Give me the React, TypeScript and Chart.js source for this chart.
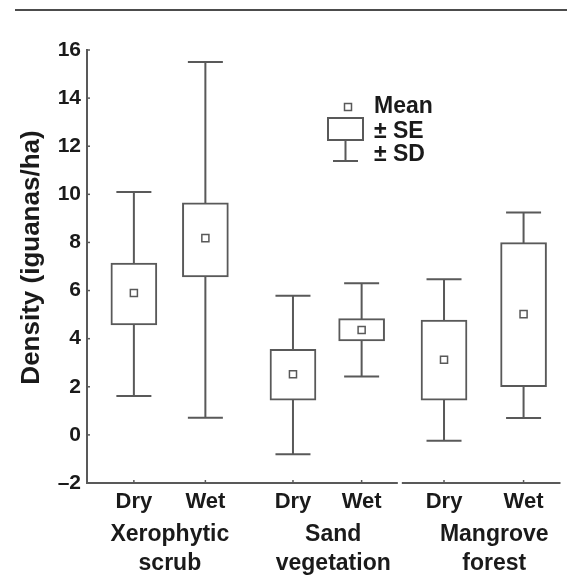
import React, { useEffect, useRef } from "react";
import { Chart, registerables } from "chart.js";

Chart.register(...registerables);

// ---- data ----
const groupLines = [
  ["Xerophytic", "scrub"],
  ["Sand", "vegetation"],
  ["Mangrove", "forest"],
];
const seasons = ["Dry", "Wet", "Dry", "Wet", "Dry", "Wet"];
const positions = [0.99, 2.5, 4.35, 5.8, 7.54, 9.22];
const groupCenters = [1.75, 5.2, 8.6];
const means = [5.9, 8.18, 2.52, 4.36, 3.12, 5.02];
const seLow = [4.57, 6.57, 1.44, 3.91, 1.44, 2.0];
const seHigh = [7.14, 9.65, 3.56, 4.83, 4.77, 7.99];
const sdLow = [1.62, 0.71, -0.8, 2.43, -0.24, 0.7];
const sdHigh = [10.1, 15.5, 5.78, 6.3, 6.47, 9.25];
const yMin = -2;
const yMax = 16;
const yStep = 2;
const yTitle = "Density (iguanas/ha)";
const legendItems = ["Mean", "\u00B1 SE", "\u00B1 SD"];

const LINE = "#595959";
const TEXT = "#1a1a1a";
const FONT = "'Liberation Sans', Arial, Helvetica, sans-serif";

const decorPlugin = {
  id: "decor",
  beforeDatasetsDraw(chart: any) {
    const ctx = chart.ctx;
    const xs = chart.scales.x;
    const ys = chart.scales.y;
    ctx.save();
    ctx.strokeStyle = LINE;
    ctx.lineWidth = 2;
    positions.forEach((p, i) => {
      const x = xs.getPixelForValue(p);
      const yt = ys.getPixelForValue(sdHigh[i]);
      const yb = ys.getPixelForValue(sdLow[i]);
      ctx.beginPath();
      ctx.moveTo(x, yt);
      ctx.lineTo(x, yb);
      ctx.moveTo(x - 17.5, yt);
      ctx.lineTo(x + 17.5, yt);
      ctx.moveTo(x - 17.5, yb);
      ctx.lineTo(x + 17.5, yb);
      ctx.stroke();
    });
    ctx.restore();
  },
  afterDraw(chart: any) {
    const ctx = chart.ctx;
    const xs = chart.scales.x;
    const ys = chart.scales.y;
    const area = chart.chartArea;
    ctx.save();

    // top rule
    ctx.strokeStyle = "#111";
    ctx.lineWidth = 1.5;
    ctx.beginPath();
    ctx.moveTo(15, 10);
    ctx.lineTo(567, 10);
    ctx.stroke();

    // x axis line with a break between sand and mangrove
    const gapX = (xs.getPixelForValue(positions[3]) + xs.getPixelForValue(positions[4])) / 2 - 3;
    ctx.strokeStyle = LINE;
    ctx.lineWidth = 2;
    ctx.beginPath();
    ctx.moveTo(area.left, area.bottom);
    ctx.lineTo(gapX - 2, area.bottom);
    ctx.moveTo(gapX + 2, area.bottom);
    ctx.lineTo(area.right, area.bottom);
    ctx.stroke();

    // x tick marks
    ctx.lineWidth = 1.5;
    positions.forEach((p) => {
      const x = xs.getPixelForValue(p);
      ctx.beginPath();
      ctx.moveTo(x, area.bottom);
      ctx.lineTo(x, area.bottom - 3);
      ctx.stroke();
    });
    // y tick marks (inward)
    for (let v = yMin; v <= yMax; v += yStep) {
      const y = ys.getPixelForValue(v);
      ctx.beginPath();
      ctx.moveTo(area.left, y);
      ctx.lineTo(area.left + 3, y);
      ctx.stroke();
    }

    // x labels
    ctx.fillStyle = TEXT;
    ctx.textAlign = "center";
    ctx.textBaseline = "middle";
    ctx.font = `bold 22px ${FONT}`;
    seasons.forEach((s, i) => {
      ctx.fillText(s, xs.getPixelForValue(positions[i]), area.bottom + 19);
    });
    ctx.font = `bold 23px ${FONT}`;
    groupLines.forEach((lines, i) => {
      const x = xs.getPixelForValue(groupCenters[i]);
      lines.forEach((t, j) => {
        ctx.fillText(t, x, area.bottom + 52 + j * 29);
      });
    });

    // y title
    ctx.save();
    ctx.translate(32, (area.top + area.bottom) / 2 - 9);
    ctx.rotate(-Math.PI / 2);
    ctx.font = `bold 26px ${FONT}`;
    ctx.fillText(yTitle, 0, 0);
    ctx.restore();

    // legend
    ctx.strokeStyle = LINE;
    ctx.lineWidth = 1.5;
    ctx.fillStyle = "#fff";
    ctx.beginPath();
    ctx.rect(344.5, 103.5, 7, 7);
    ctx.fill();
    ctx.stroke();
    ctx.lineWidth = 2;
    ctx.beginPath();
    ctx.rect(328, 118, 35, 22);
    ctx.stroke();
    ctx.beginPath();
    ctx.moveTo(345.5, 140);
    ctx.lineTo(345.5, 161);
    ctx.moveTo(333, 161);
    ctx.lineTo(358, 161);
    ctx.stroke();
    ctx.fillStyle = TEXT;
    ctx.textAlign = "left";
    ctx.font = `bold 23px ${FONT}`;
    const ly = [107, 132, 155];
    legendItems.forEach((t, i) => ctx.fillText(t, 374, ly[i]));

    ctx.restore();
  },
};

export default function App() {
  const ref = useRef<HTMLCanvasElement | null>(null);
  useEffect(() => {
    document.body.style.margin = "0";
    const canvas = ref.current;
    if (!canvas) return;
    const chart = new Chart(canvas, {
      type: "bar",
      data: {
        datasets: [
          {
            type: "scatter",
            label: "Mean",
            data: positions.map((p, i) => ({ x: p, y: means[i] })),
            pointStyle: "rect",
            radius: 5,
            pointBorderWidth: 1.5,
            pointBorderColor: LINE,
            pointBackgroundColor: "#fff",
            borderColor: LINE,
            backgroundColor: "#fff",
            order: 0,
          } as any,
          {
            type: "bar",
            label: "SE",
            data: positions.map((p, i) => ({ x: p, y: [seLow[i], seHigh[i]] })) as any,
            backgroundColor: "#fff",
            borderColor: LINE,
            borderWidth: 2,
            borderSkipped: false,
            barThickness: 46,
            order: 1,
          } as any,
        ],
      },
      options: {
        animation: false,
        responsive: false,
        maintainAspectRatio: false,
        layout: { padding: { left: 0, right: 4, top: 50, bottom: 94 } },
        plugins: {
          legend: { display: false },
          tooltip: { enabled: false },
        },
        scales: {
          x: {
            type: "linear",
            min: 0,
            max: 10,
            offset: false,
            display: false,
          },
          y: {
            type: "linear",
            min: yMin,
            max: yMax,
            grid: { display: false, drawTicks: false },
            border: { display: true, color: LINE, width: 2 },
            ticks: {
              stepSize: yStep,
              padding: 6,
              color: TEXT,
              font: { family: FONT, size: 21, weight: "bold" },
              callback: (v: any) => (Number(v) < 0 ? "\u2013" + Math.abs(Number(v)) : String(v)),
            },
            afterFit: (s: any) => {
              s.width = 87;
            },
          },
        },
      } as any,
      plugins: [decorPlugin],
    });
    return () => chart.destroy();
  }, []);
  return (
    <div style={{ position: "absolute", left: 0, top: 0, width: 567, height: 577 }}>
      <canvas ref={ref} width={567} height={577} style={{ width: 567, height: 577 }} />
    </div>
  );
}
